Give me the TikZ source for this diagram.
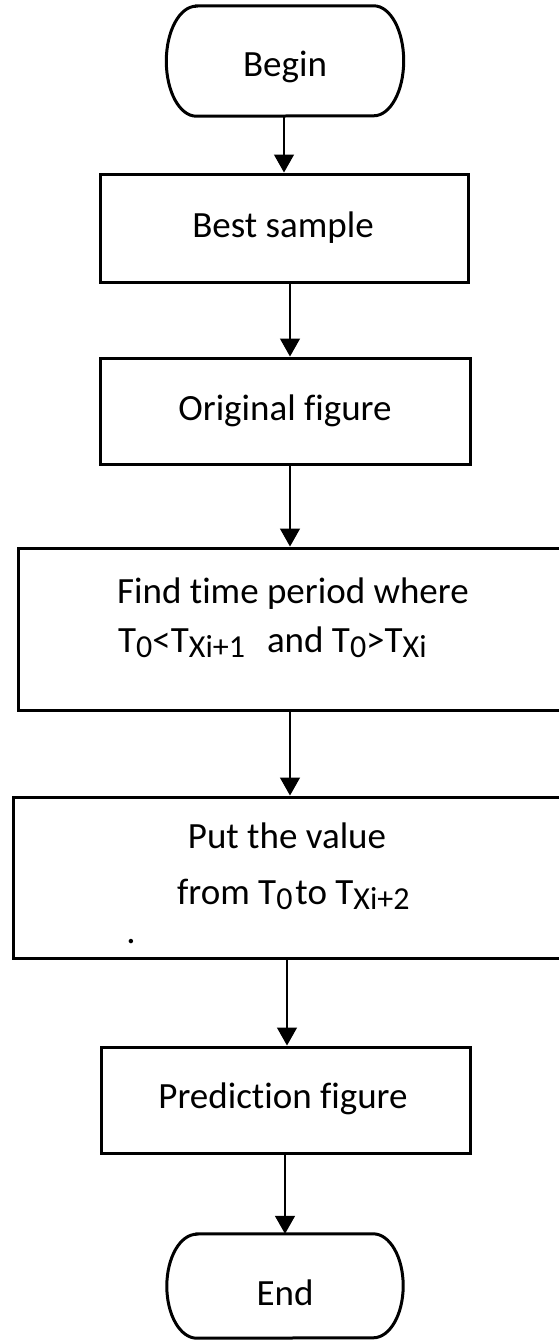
\documentclass[tikz,border=0pt]{standalone}
\usepackage{fontspec}
\setmainfont{Carlito}[Ligatures={NoCommon}]
\usetikzlibrary{arrows.meta}
\newcommand{\lowsub}[1]{\raisebox{-5pt}{\fontsize{32}{38}\selectfont #1}}
\tikzset{
  boxline/.style={draw=black, line width=3pt},
  procbox/.style={boxline, rectangle, inner sep=0pt},
  termnode/.style={rectangle, draw=none, inner sep=0pt, minimum width=237pt, minimum height=110pt},
  txt/.style={inner sep=0pt, anchor=base, font=\fontsize{37}{44}\selectfont},
  arr/.style={draw=black, line width=1.4pt, -{Triangle[width=20pt,length=18pt]}}
}
\begin{document}
\begin{tikzpicture}[x=1pt,y=-1pt]
\useasboundingbox (0,0) rectangle (559,1341);
\clip (0,0) rectangle (559,1341);
\fill[white] (0,0) rectangle (559,1341);
% terminals
\node[termnode] (begin) at (285,61) {};
\draw[boxline] ([xshift=30pt]begin.north west) -- ([xshift=-30pt]begin.north east)
  arc[start angle=90,end angle=-90,x radius=30pt,y radius=55pt]
  -- ([xshift=30pt]begin.south west)
  arc[start angle=-90,end angle=-270,x radius=30pt,y radius=55pt] -- cycle;
\node[txt] (begintxt) at (285,76) {Begin};
\node[termnode, minimum height=104pt, minimum width=236pt] (end) at (285,1286) {};
\draw[boxline] ([xshift=30pt]end.north west) -- ([xshift=-30pt]end.north east)
  arc[start angle=90,end angle=-90,x radius=30pt,y radius=52pt]
  -- ([xshift=30pt]end.south west)
  arc[start angle=-90,end angle=-270,x radius=30pt,y radius=52pt] -- cycle;
\node[txt] (endtxt) at (285,1305) {End};
% process boxes
\node[procbox, minimum width=368pt, minimum height=108pt] (best) at (284,228) {};
\node[txt] (besttxt) at (283,237) {Best sample};
\node[procbox, minimum width=370pt, minimum height=106pt] (orig) at (285,411) {};
\node[txt] (origtxt) at (285,420) {Original figure};
\node[procbox, minimum width=562pt, minimum height=162pt] (find) at (299,629) {};
\node[txt] (find1) at (293,603) {Find time period where};
\node[txt, anchor=base west] (find2) at (118,652) {T\lowsub{0}<T\lowsub{Xi+1}\hspace{22pt}and T\lowsub{0}>T\lowsub{Xi}};
\node[procbox, minimum width=567pt, minimum height=161pt] (put) at (296.5,877.5) {};
\node[txt] (put1) at (287,848) {Put the value};
\node[txt, anchor=base west] (put2) at (177,904) {from T\lowsub{0}\hspace{3pt}to T\lowsub{Xi+2}};
\node[txt] (dot) at (131,943) {.};
\node[procbox, minimum width=369pt, minimum height=106pt] (pred) at (285.5,1100) {};
\node[txt] (predtxt) at (283,1108) {Prediction figure};
% connectors
\draw[arr] (begin.south -| 284,0) -- (best.north -| 284,0);
\draw[arr] (best.south -| 290,0) -- (orig.north -| 290,0);
\draw[arr] (orig.south -| 290,0) -- (find.north -| 290,0);
\draw[arr] (find.south -| 290,0) -- (put.north -| 290,0);
\draw[arr] (put.south -| 287,0) -- (pred.north -| 287,0);
\draw[arr] (pred.south -| 285,0) -- (end.north -| 285,0);
\end{tikzpicture}
\end{document}
